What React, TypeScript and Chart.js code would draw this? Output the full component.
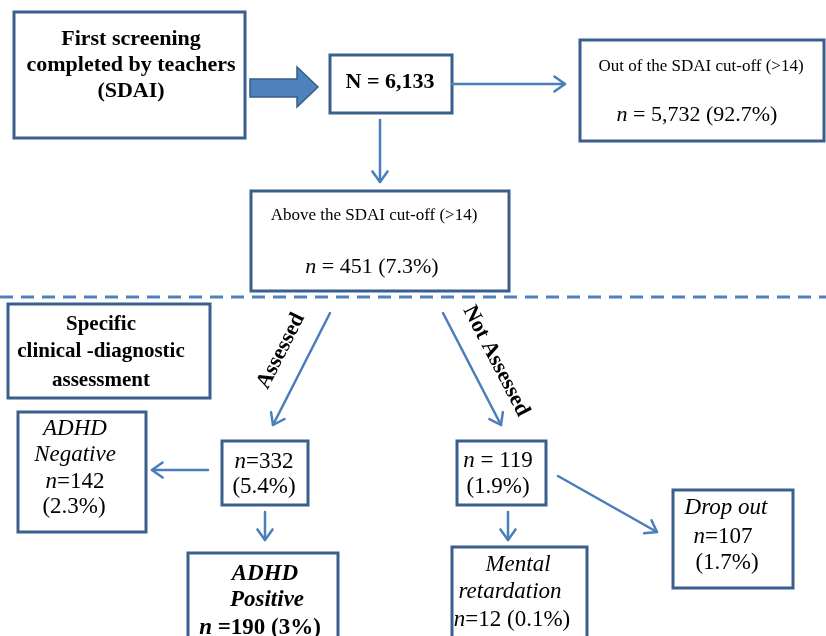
import { useEffect, useRef } from 'react';
import { Chart, registerables } from 'chart.js';

Chart.register(...registerables);

// ---------- DATA ----------
const stageTitles = ['First screening', 'completed by teachers', '(SDAI)'];
const assessmentTitle = ['Specific', 'clinical -diagnostic', 'assessment'];
const totalN = 6133;
const cutoffLabels = ['Out of the SDAI cut-off (>14)', 'Above the SDAI cut-off (>14)'];
const cutoffCounts = [5732, 451];
const cutoffPercents = [92.7, 7.3];
const branchLabels = ['Assessed', 'Not Assessed'];
const branchCounts = [332, 119];
const branchPercents = [5.4, 1.9];
const outcomeLabels = [['ADHD', 'Negative'], ['ADHD', 'Positive'], ['Mental', 'retardation'], ['Drop out']];
const outcomeCounts = [142, 190, 12, 107];
const outcomePercents = [2.3, 3, 0.1, 1.7];

const fmt = (n: number) => n.toLocaleString('en-US');
const pct = (p: number) => `(${p}%)`;

// ---------- LAYOUT (in scale units) ----------
const W = 826;
const H = 636;
const BOX_COLOR = '#3B5F8D';
const ARROW_COLOR = '#4A7EBB';
const FONT = '"Liberation Serif", "Times New Roman", serif';

type Seg = { t: string; i?: boolean };
type Line = { x: number; y: number; size: number; bold?: boolean; italic?: boolean; segs: Seg[] };

const boxes: number[][] = [
  [14, 12, 245, 138], // screening
  [330, 55, 452, 113], // total
  [580, 40, 824, 141], // out
  [251, 191, 509, 291], // above
  [8, 304, 210, 398], // specific
  [222, 441, 308, 505], // 332
  [18, 412, 146, 532], // negative
  [188, 553, 338, 660], // positive
  [457, 441, 546, 505], // 119
  [452, 547, 587, 660], // mental
  [673, 490, 793, 588], // dropout
];

const arrows: number[][] = [
  [452, 84, 565, 84],
  [380, 120, 380, 182],
  [330, 313, 273, 425],
  [443, 313, 501, 425],
  [208, 470, 152, 470],
  [265, 512, 265, 540],
  [508, 512, 508, 540],
  [558, 476, 657, 532],
];

const blockArrow: number[][] = [
  [250, 79], [297, 79], [297, 67], [318, 87], [297, 107], [297, 97], [250, 97],
];

const nLine = (x: number, y: number, size: number, count: number, rest: string, spaced: boolean, bold = false): Line => ({
  x, y, size, bold,
  segs: [{ t: 'n', i: true }, { t: (spaced ? ' = ' : '=') + fmt(count) + rest }],
});

const lines: Line[] = [
  { x: 131, y: 45, size: 22, bold: true, segs: [{ t: stageTitles[0] }] },
  { x: 131, y: 71, size: 22, bold: true, segs: [{ t: stageTitles[1] }] },
  { x: 131, y: 97, size: 22, bold: true, segs: [{ t: stageTitles[2] }] },
  { x: 390, y: 88, size: 22, bold: true, segs: [{ t: 'N = ' + fmt(totalN) }] },
  { x: 701, y: 71, size: 17, segs: [{ t: cutoffLabels[0] }] },
  nLine(697, 121, 22, cutoffCounts[0], ' ' + pct(cutoffPercents[0]), true),
  { x: 374, y: 220, size: 17, segs: [{ t: cutoffLabels[1] }] },
  nLine(372, 273, 22, cutoffCounts[1], ' ' + pct(cutoffPercents[1]), true),
  { x: 101, y: 330, size: 21, bold: true, segs: [{ t: assessmentTitle[0] }] },
  { x: 101, y: 357, size: 21, bold: true, segs: [{ t: assessmentTitle[1] }] },
  { x: 101, y: 386, size: 21, bold: true, segs: [{ t: assessmentTitle[2] }] },
  nLine(264, 468, 23, branchCounts[0], '', false),
  { x: 264, y: 493, size: 23, segs: [{ t: pct(branchPercents[0]) }] },
  nLine(498, 467, 23, branchCounts[1], '', true),
  { x: 498, y: 493, size: 23, segs: [{ t: pct(branchPercents[1]) }] },
  { x: 75, y: 435, size: 23, italic: true, segs: [{ t: outcomeLabels[0][0], i: true }] },
  { x: 75, y: 461, size: 23, italic: true, segs: [{ t: outcomeLabels[0][1], i: true }] },
  nLine(75, 488, 23, outcomeCounts[0], '', false),
  { x: 74, y: 513, size: 23, segs: [{ t: pct(outcomePercents[0]) }] },
  { x: 265, y: 580, size: 23, bold: true, segs: [{ t: outcomeLabels[1][0], i: true }] },
  { x: 267, y: 606, size: 23, bold: true, segs: [{ t: outcomeLabels[1][1], i: true }] },
  { x: 260, y: 634, size: 23, bold: true, segs: [{ t: 'n', i: true }, { t: ' =' + fmt(outcomeCounts[1]) + ' ' + pct(outcomePercents[1]) }] },
  { x: 518, y: 571, size: 23, segs: [{ t: outcomeLabels[2][0], i: true }] },
  { x: 510, y: 598, size: 23, segs: [{ t: outcomeLabels[2][1], i: true }] },
  nLine(512, 626, 23, outcomeCounts[2], ' ' + pct(outcomePercents[2]), false),
  { x: 726, y: 514, size: 23, segs: [{ t: outcomeLabels[3][0], i: true }] },
  nLine(723, 543, 23, outcomeCounts[3], '', false),
  { x: 727, y: 569, size: 23, segs: [{ t: pct(outcomePercents[3]) }] },
];

const rotatedLabels = [
  { x: 281, y: 351, angle: -63, text: branchLabels[0] },
  { x: 496, y: 361, angle: 62.6, text: branchLabels[1] },
];

const nodeCenters = boxes.map((b) => ({ x: (b[0] + b[2]) / 2, y: (b[1] + b[3]) / 2 }));

const flowPlugin = {
  id: 'flow',
  beforeDraw(chart: any) {
    const ctx = chart.ctx as CanvasRenderingContext2D;
    ctx.save();
    ctx.fillStyle = '#ffffff';
    ctx.fillRect(0, 0, chart.width, chart.height);
    ctx.restore();
  },
  afterDraw(chart: any) {
    const ctx = chart.ctx as CanvasRenderingContext2D;
    const sx = (v: number) => chart.scales.x.getPixelForValue(v);
    const sy = (v: number) => chart.scales.y.getPixelForValue(v);
    ctx.save();

    // dashed separator
    ctx.strokeStyle = '#4F81BD';
    ctx.lineWidth = 3;
    ctx.setLineDash([13, 8]);
    ctx.beginPath();
    ctx.moveTo(sx(0), sy(297));
    ctx.lineTo(sx(W), sy(297));
    ctx.stroke();
    ctx.setLineDash([]);

    // boxes
    ctx.strokeStyle = BOX_COLOR;
    ctx.lineWidth = 3;
    ctx.fillStyle = '#ffffff';
    boxes.forEach((b) => {
      const x0 = sx(b[0]), y0 = sy(b[1]), x1 = sx(b[2]), y1 = sy(b[3]);
      ctx.fillRect(x0, y0, x1 - x0, y1 - y0);
      ctx.strokeRect(x0, y0, x1 - x0, y1 - y0);
    });

    // block arrow
    ctx.beginPath();
    blockArrow.forEach((p, i) => {
      if (i === 0) ctx.moveTo(sx(p[0]), sy(p[1]));
      else ctx.lineTo(sx(p[0]), sy(p[1]));
    });
    ctx.closePath();
    ctx.fillStyle = '#4F81BD';
    ctx.fill();
    ctx.strokeStyle = '#385D8A';
    ctx.lineWidth = 1.5;
    ctx.stroke();

    // arrows
    ctx.strokeStyle = ARROW_COLOR;
    ctx.lineWidth = 2.5;
    ctx.lineCap = 'round';
    ctx.lineJoin = 'round';
    arrows.forEach((a) => {
      const x0 = sx(a[0]), y0 = sy(a[1]), x1 = sx(a[2]), y1 = sy(a[3]);
      ctx.beginPath();
      ctx.moveTo(x0, y0);
      ctx.lineTo(x1, y1);
      ctx.stroke();
      const ang = Math.atan2(y1 - y0, x1 - x0);
      const L = 13, spread = 0.62;
      ctx.beginPath();
      ctx.moveTo(x1 - L * Math.cos(ang - spread), y1 - L * Math.sin(ang - spread));
      ctx.lineTo(x1, y1);
      ctx.lineTo(x1 - L * Math.cos(ang + spread), y1 - L * Math.sin(ang + spread));
      ctx.stroke();
    });

    // text
    ctx.fillStyle = '#000000';
    ctx.textBaseline = 'alphabetic';
    ctx.textAlign = 'left';
    lines.forEach((ln) => {
      const fontFor = (it?: boolean) =>
        `${it || ln.italic ? 'italic ' : ''}${ln.bold ? 'bold ' : ''}${ln.size}px ${FONT}`;
      const widths = ln.segs.map((s) => {
        ctx.font = fontFor(s.i);
        return ctx.measureText(s.t).width;
      });
      const total = widths.reduce((p, c) => p + c, 0);
      let x = sx(ln.x) - total / 2;
      const y = sy(ln.y);
      ln.segs.forEach((s, i) => {
        ctx.font = fontFor(s.i);
        ctx.fillText(s.t, x, y);
        x += widths[i];
      });
    });

    // rotated branch labels
    ctx.textAlign = 'center';
    ctx.textBaseline = 'middle';
    ctx.font = `bold 22px ${FONT}`;
    rotatedLabels.forEach((r) => {
      ctx.save();
      ctx.translate(sx(r.x), sy(r.y));
      ctx.rotate((r.angle * Math.PI) / 180);
      ctx.fillText(r.text, 0, 0);
      ctx.restore();
    });

    ctx.restore();
  },
};

export default function App() {
  const ref = useRef<HTMLCanvasElement>(null);
  useEffect(() => {
    document.body.style.margin = '0';
    const chart = new Chart(ref.current as HTMLCanvasElement, {
      type: 'scatter',
      data: {
        datasets: [{ data: nodeCenters, pointRadius: 0, showLine: false }],
      },
      options: {
        animation: false,
        responsive: false,
        maintainAspectRatio: false,
        events: [],
        layout: { padding: 0 },
        plugins: { legend: { display: false }, tooltip: { enabled: false } },
        scales: {
          x: { type: 'linear', min: 0, max: W, display: false },
          y: { type: 'linear', min: 0, max: H, reverse: true, display: false },
        },
      },
      plugins: [flowPlugin],
    } as any);
    return () => chart.destroy();
  }, []);
  return (
    <div style={{ width: W, height: H, overflow: 'hidden' }}>
      <canvas ref={ref} width={W} height={H} style={{ width: W, height: H, display: 'block' }} />
    </div>
  );
}
